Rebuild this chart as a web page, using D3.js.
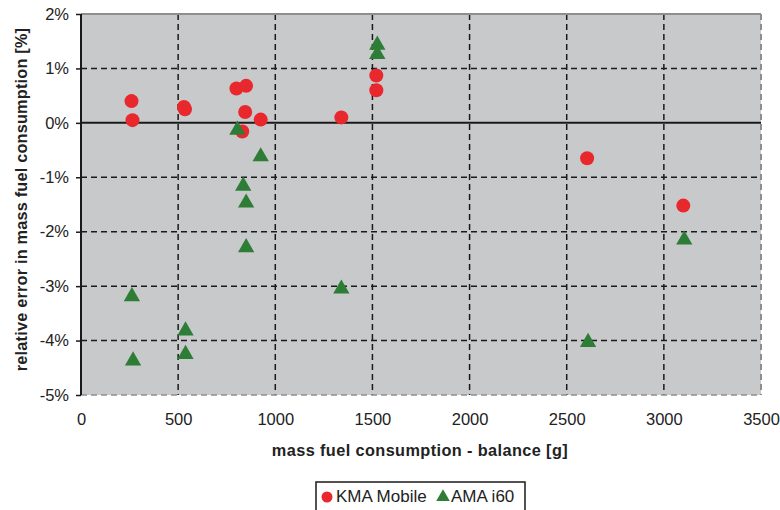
<!DOCTYPE html>
<html><head><meta charset="utf-8">
<script src="https://cdn.jsdelivr.net/npm/d3@7"></script>
<style>body{margin:0;background:#fff}svg{display:block}text{font-family:"Liberation Sans",Arial,sans-serif}</style>
</head><body>
<script>
const kmaX = [260, 265, 530, 535, 800, 850, 845, 830, 925, 1340, 1520, 1520, 2605, 3100];
const kmaY = [0.40, 0.05, 0.29, 0.25, 0.63, 0.68, 0.20, -0.16, 0.06, 0.10, 0.87, 0.60, -0.65, -1.52];
const amaX = [1525, 1525, 805, 925, 835, 850, 850, 262, 268, 538, 538, 1340, 2610, 3105];
const amaY = [1.43, 1.26, -0.13, -0.62, -1.16, -1.47, -2.29, -3.19, -4.37, -3.82, -4.25, -3.05, -4.03, -2.15];
const xTicks = [0, 500, 1000, 1500, 2000, 2500, 3000, 3500];
const yTicks = [2, 1, 0, -1, -2, -3, -4, -5];
const seriesNames = ["KMA Mobile", "AMA i60"];

const W = 780, H = 510;
const L = 81, R = 761, T = 14, B = 395;
const FONT = '"Liberation Sans",Arial,sans-serif';
const svg = d3.select("body").append("svg").attr("width", W).attr("height", H);
const x = d3.scaleLinear().domain([0, 3500]).range([L, R]);
const y = d3.scaleLinear().domain([-5, 2]).range([B, T]);

svg.append("rect").attr("x", L).attr("y", T).attr("width", R - L).attr("height", B - T).attr("fill", "#c8c9cb");

// gridlines
svg.append("g").selectAll("line").data(xTicks.filter(d => d > 0 && d < 3500)).join("line")
  .attr("x1", d => x(d)).attr("x2", d => x(d)).attr("y1", T).attr("y2", B)
  .attr("stroke", "#1a1a1a").attr("stroke-width", 1.5).attr("stroke-dasharray", "6,4");
svg.append("g").selectAll("line").data(yTicks.filter(d => d < 2 && d > -5 && d !== 0)).join("line")
  .attr("x1", L).attr("x2", R).attr("y1", d => y(d)).attr("y2", d => y(d))
  .attr("stroke", "#1a1a1a").attr("stroke-width", 1.5).attr("stroke-dasharray", "6,4");

// border
svg.append("line").attr("x1", L).attr("x2", R).attr("y1", T).attr("y2", T).attr("stroke", "#8e8e8e").attr("stroke-width", 2);
svg.append("line").attr("x1", R).attr("x2", R).attr("y1", T).attr("y2", B).attr("stroke", "#8e8e8e").attr("stroke-width", 2).attr("stroke-dasharray", "6,4");
svg.append("line").attr("x1", L).attr("x2", R).attr("y1", B).attr("y2", B).attr("stroke", "#8e8e8e").attr("stroke-width", 1.5).attr("stroke-dasharray", "6,4");

// zero line
svg.append("line").attr("x1", L).attr("x2", R).attr("y1", y(0)).attr("y2", y(0)).attr("stroke", "#1a1a1a").attr("stroke-width", 2);

// y axis
const yAxis = d3.axisLeft(y).tickValues(yTicks).tickSize(5).tickPadding(7).tickFormat(d => d + "%");
const gy = svg.append("g").attr("transform", `translate(${L},0)`).call(yAxis);
gy.select(".domain").attr("stroke", "#1a1a1a").attr("stroke-width", 2).attr("d", `M0,${T}V${B}`);
gy.selectAll(".tick line").attr("stroke", "#1a1a1a").attr("stroke-width", 1.5);
gy.selectAll(".tick text").attr("font-size", 16.5).attr("fill", "#222").style("font-family", FONT);

// x axis labels (low position)
const xAxis = d3.axisBottom(x).tickValues(xTicks).tickSize(0).tickPadding(18).tickFormat(d3.format("d"));
const gx = svg.append("g").attr("transform", `translate(0,${B})`).call(xAxis);
gx.select(".domain").remove();
gx.selectAll(".tick text").attr("font-size", 16.5).attr("fill", "#222").style("font-family", FONT);

// titles
svg.append("text").attr("x", (L + R) / 2 - 1).attr("y", 456).attr("text-anchor", "middle")
  .attr("font-size", 16.3).attr("letter-spacing", 0.4).attr("font-weight", "bold").attr("fill", "#222").text("mass fuel consumption - balance [g]");
svg.append("text").attr("transform", `translate(27,${(T + B) / 2 - 5}) rotate(-90)`).attr("text-anchor", "middle")
  .attr("font-size", 16.3).attr("letter-spacing", 0.2).attr("font-weight", "bold").attr("fill", "#222").text("relative error in mass fuel consumption [%]");

const red = "#e8282d", green = "#2e7d36";
const tri = d3.symbol().type(d3.symbolTriangle).size(115);

// points
svg.append("g").selectAll("circle").data(kmaX.map((d, i) => [d, kmaY[i]])).join("circle")
  .attr("cx", d => x(d[0])).attr("cy", d => y(d[1])).attr("r", 7).attr("fill", red);
svg.append("g").selectAll("path").data(amaX.map((d, i) => [d, amaY[i]])).join("path")
  .attr("d", tri).attr("transform", d => `translate(${x(d[0])},${y(d[1])})`).attr("fill", green);

// legend
const lg = svg.append("g");
lg.append("rect").attr("x", 316).attr("y", 482).attr("width", 209).attr("height", 34).attr("fill", "#fff").attr("stroke", "#1a1a1a").attr("stroke-width", 1.5);
lg.append("circle").attr("cx", 327).attr("cy", 497).attr("r", 5.5).attr("fill", red);
lg.append("text").attr("x", 336).attr("y", 502).attr("font-size", 17).attr("fill", "#222").style("font-family", FONT).text(seriesNames[0]);
lg.append("path").attr("d", d3.symbol().type(d3.symbolTriangle).size(80)).attr("transform", "translate(443,497)").attr("fill", green);
lg.append("text").attr("x", 451).attr("y", 502).attr("font-size", 17).attr("fill", "#222").style("font-family", FONT).text(seriesNames[1]);
</script>
</body></html>
